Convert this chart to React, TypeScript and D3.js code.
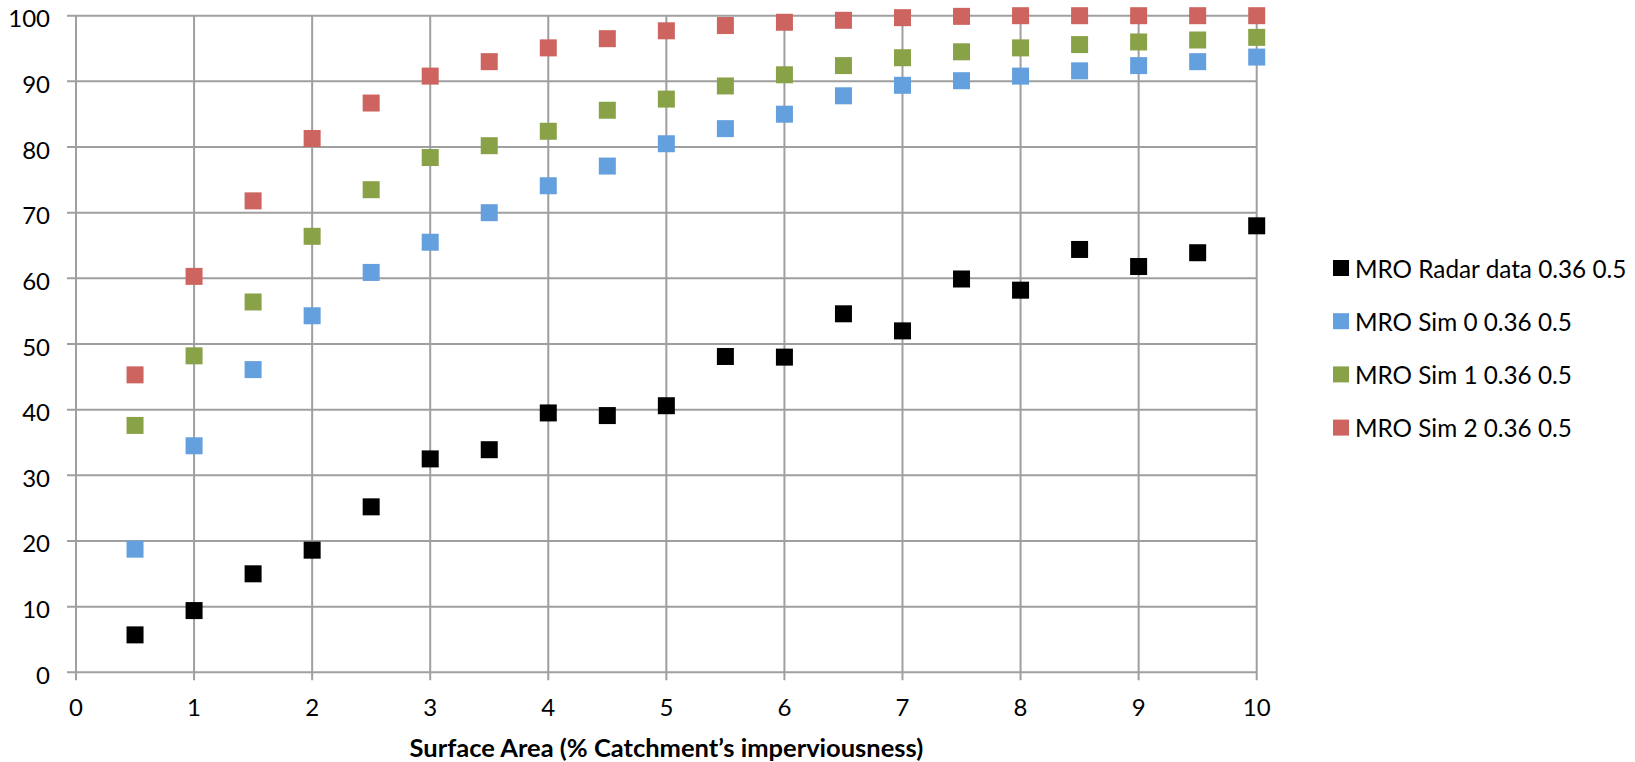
import React from "react";
import * as d3 from "d3";

// Surface area (% of catchment imperviousness)
const surfaceArea = [0.5, 1, 1.5, 2, 2.5, 3, 3.5, 4, 4.5, 5, 5.5, 6, 6.5, 7, 7.5, 8, 8.5, 9, 9.5, 10];

const radarData = [5.7, 9.4, 15.0, 18.6, 25.2, 32.5, 33.9, 39.5, 39.1, 40.6, 48.1, 48.0, 54.6, 52.0, 59.9, 58.2, 64.4, 61.8, 63.9, 68.0];
const sim0 = [18.75, 34.5, 46.1, 54.3, 60.9, 65.5, 70.0, 74.1, 77.1, 80.5, 82.8, 85.0, 87.8, 89.4, 90.1, 90.8, 91.6, 92.4, 93.0, 93.7];
const sim1 = [37.6, 48.2, 56.4, 66.4, 73.5, 78.4, 80.2, 82.4, 85.6, 87.3, 89.3, 91.0, 92.4, 93.6, 94.5, 95.1, 95.6, 96.0, 96.3, 96.7];
const sim2 = [45.3, 60.3, 71.8, 81.3, 86.7, 90.8, 93.0, 95.1, 96.5, 97.7, 98.5, 99.0, 99.3, 99.7, 99.9, 100, 100, 100, 100, 100];

const seriesNames = ["MRO Radar data 0.36 0.5", "MRO Sim 0 0.36 0.5", "MRO Sim 1 0.36 0.5", "MRO Sim 2 0.36 0.5"];
const seriesColors = ["#000000", "#64A0DE", "#89A248", "#CD645F"];
const seriesValues = [radarData, sim0, sim1, sim2];

const xTicks = [0, 1, 2, 3, 4, 5, 6, 7, 8, 9, 10];
const yTicks = [0, 10, 20, 30, 40, 50, 60, 70, 80, 90, 100];
const xTitle = "Surface Area (% Catchment\u2019s imperviousness)";

const W = 1635;
const H = 762;
const FONT = "Lato, 'Open Sans', sans-serif";

export default function App() {
  const x = d3.scaleLinear().domain([0, 10]).range([76, 1256.7]);
  const y = d3.scaleLinear().domain([0, 100]).range([672.3, 15.7]);
  const grid = "#9f9f9f";
  const m = 17;

  return (
    <svg
      width={W}
      height={H}
      style={{ position: "absolute", left: 0, top: 0, background: "#fff" }}
      fontFamily={FONT}
    >
      {/* horizontal gridlines with outward ticks */}
      {yTicks.map((t) => (
        <line key={"h" + t} x1={x(0) - 9} x2={x(10)} y1={y(t)} y2={y(t)} stroke={grid} strokeWidth={2} />
      ))}
      {/* vertical gridlines with outward ticks */}
      {xTicks.map((t) => (
        <line key={"v" + t} x1={x(t)} x2={x(t)} y1={y(100)} y2={y(0) + 8} stroke={grid} strokeWidth={2} />
      ))}

      {/* y tick labels */}
      {yTicks.map((t) => (
        <text key={"yl" + t} x={50} y={y(t) + 2} textAnchor="end" dominantBaseline="central" fontSize={24} fill="#000">
          {t}
        </text>
      ))}
      {/* x tick labels */}
      {xTicks.map((t) => (
        <text key={"xl" + t} x={x(t)} y={716} textAnchor="middle" fontSize={24} fill="#000">
          {t}
        </text>
      ))}

      {/* x axis title */}
      <text x={(x(0) + x(10)) / 2} y={757} textAnchor="middle" fontSize={25.5} fontWeight="bold" fill="#000">
        {xTitle}
      </text>

      {/* data markers */}
      {seriesValues.map((vals, si) => (
        <g key={"s" + si} fill={seriesColors[si]}>
          {vals.map((v, i) => (
            <rect key={i} x={x(surfaceArea[i]) - m / 2} y={y(v) - m / 2} width={m} height={m} />
          ))}
        </g>
      ))}

      {/* legend */}
      {seriesNames.map((name, i) => {
        const cy = 268 + i * 53.2;
        return (
          <g key={"lg" + i}>
            <rect x={1333} y={cy - 8} width={16} height={16} fill={seriesColors[i]} />
            <text x={1355} y={cy} dominantBaseline="central" fontSize={24.3} fill="#000">
              {name}
            </text>
          </g>
        );
      })}
    </svg>
  );
}
